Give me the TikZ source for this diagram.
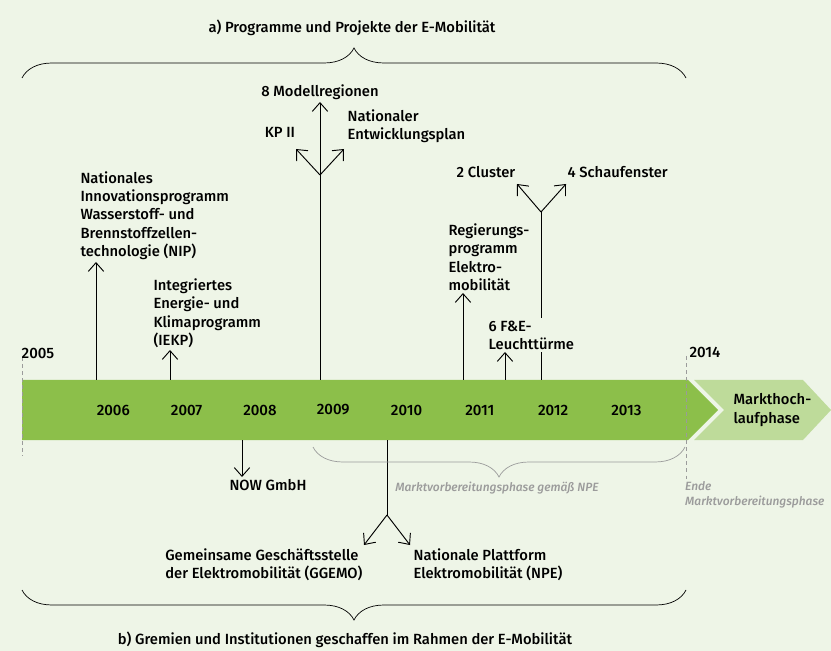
\documentclass[tikz,border=0pt]{standalone}
\usepackage{fontspec}
\setmainfont{Fira Sans}[UprightFont={* Medium}, ItalicFont={* Medium Italic}]
\usetikzlibrary{arrows.meta,positioning,decorations.pathreplacing}
\definecolor{bgcol}{HTML}{EEF5E7}
\definecolor{barcol}{HTML}{8CBF4A}
\definecolor{nextcol}{HTML}{BEDB9A}
\definecolor{phasecol}{HTML}{9B9B9B}

\begin{document}
\begin{tikzpicture}[
  x=0.03cm, y=-0.03cm,
  lbl/.style={font=\fontsize{12.6}{15.5}\selectfont, align=left, inner sep=2pt},
  yr/.style={font=\fontsize{12.8}{15}\selectfont, inner sep=0pt},
  gry/.style={font=\fontsize{10.2}{13}\selectfont\itshape, text=phasecol,
              align=left, inner sep=0pt},
  ar/.style={-{Straight Barb[length=2.6mm, width=4.6mm]}, line width=0.8pt},
  ln/.style={line width=0.8pt},
  brc/.style={decorate, decoration={brace, amplitude=0.9cm}, line width=0.6pt},
  lim/.style={phasecol, dashed, line width=0.6pt}
]
  \fill[bgcol] (0,0) rectangle (831,651);

  % time bar
  \fill[barcol] (22,380) -- (688,380) -- (718,410) -- (688,440) -- (22,440) -- cycle;
  \fill[nextcol] (694,380) -- (803,380) -- (831,410) -- (803,440) -- (694,440)
    -- (724,410) -- cycle;
  \node[lbl, anchor=west] (hoch) at (731,410) {Markthoch-\\laufphase};

  \draw[lim] (22,357) -- (22,456);
  \draw[lim] (686,356) -- (686,482);
  \node[yr] (y2005) at (38,353) {2005};
  \node[yr] (y2014) at (705,352) {2014};
  \foreach \yr [count=\i] in {2006,2007,2008,2009,2010,2011,2012,2013}
    \node[yr] (y\yr) at (40+73.3*\i,410) {\yr};

  % a) programmes
  \node[lbl] (titleA) at (352,28) {a) Programme und Projekte der E-Mobilität};
  \coordinate (aL) at (22,78);
  \coordinate (aR) at (686,78);
  \draw[brc] (aL) -- (aR);

  \coordinate (b06) at (96,380);
  \coordinate (b07) at (170,380);
  \coordinate (b09) at (320,380);
  \coordinate (b11) at (463,380);
  \coordinate (b11b) at (505,380);
  \coordinate (b12) at (541,380);

  \node[lbl, anchor=south west] (nip) at (78,262)
    {Nationales\\Innovationsprogramm\\Wasserstoff- und\\Brennstoffzellen-\\technologie (NIP)};
  \node[lbl, anchor=south west] (iekp) at (151,350)
    {Integriertes\\Energie- und\\Klimaprogramm\\(IEKP)};
  \draw[ar] (b06) -- (nip.south -| b06);
  \draw[ar] (b07) -- (iekp.south -| b07);

  \coordinate (br09) at (320,175);
  \coordinate (kptip) at (296,149);
  \coordinate (neptip) at (344,149);
  \node[lbl, anchor=south] (modell) at (320,102) {8 Modellregionen};
  \node[lbl] (kp) at (280,132) {KP II};
  \node[lbl, anchor=west] (nep) at (345,126) {Nationaler\\Entwicklungsplan};
  \draw[ln] (b09) -- (br09);
  \draw[ar] (br09) -- (modell.south);
  \draw[ar] (br09) -- (kptip);
  \draw[ar] (br09) -- (neptip);

  \node[lbl, anchor=south west] (reg) at (446,293)
    {Regierungs-\\programm\\Elektro-\\mobilität};
  \draw[ar] (b11) -- (reg.south -| b11);

  \coordinate (br12) at (541,212);
  \coordinate (clutip) at (517,184);
  \coordinate (schtip) at (566,184);
  \draw[ln] (b12) -- (br12);
  \draw[ar] (br12) -- (clutip);
  \draw[ar] (br12) -- (schtip);
  \node[lbl] (cluster) at (486,172) {2 Cluster};
  \node[lbl, anchor=west] (schau) at (565,172) {4 Schaufenster};
  \node[lbl, anchor=south west, fill=bgcol] (fue) at (486,352) {6 F\&E-\\Leuchttürme};
  \draw[ar] (b11b) -- (fue.south -| b11b);

  % b) bodies
  \coordinate (d08) at (242,440);
  \coordinate (d10) at (387,440);
  \node[lbl, anchor=north] (now) at (268,477) {NOW GmbH};
  \draw[ar] (d08) -- (now.north -| d08);

  \coordinate (br10) at (387,515);
  \coordinate (ggtip) at (364,545);
  \coordinate (npetip) at (410,545);
  \draw[ln] (d10) -- (br10);
  \draw[ar] (br10) -- (ggtip);
  \draw[ar] (br10) -- (npetip);
  \node[lbl, anchor=north east] (ggemo) at (365,546)
    {Gemeinsame Geschäftsstelle\\der Elektromobilität (GGEMO)};
  \node[lbl, anchor=north west] (npe) at (411,546)
    {Nationale Plattform\\Elektromobilität (NPE)};

  \coordinate (pR) at (685,447);
  \coordinate (pL) at (313,447);
  \draw[brc, phasecol] (pR) -- (pL);
  \node[gry] (npephase) at (497,488) {Marktvorbereitungsphase gemäß NPE};
  \node[gry, anchor=north west] (ende) at (685,481) {Ende\\Marktvorbereitungsphase};

  \coordinate (bR) at (686,590);
  \coordinate (bL) at (22,590);
  \draw[brc] (bR) -- (bL);
  \node[lbl] (titleB) at (345,640)
    {b) Gremien und Institutionen geschaffen im Rahmen der E-Mobilität};
\end{tikzpicture}
\end{document}
